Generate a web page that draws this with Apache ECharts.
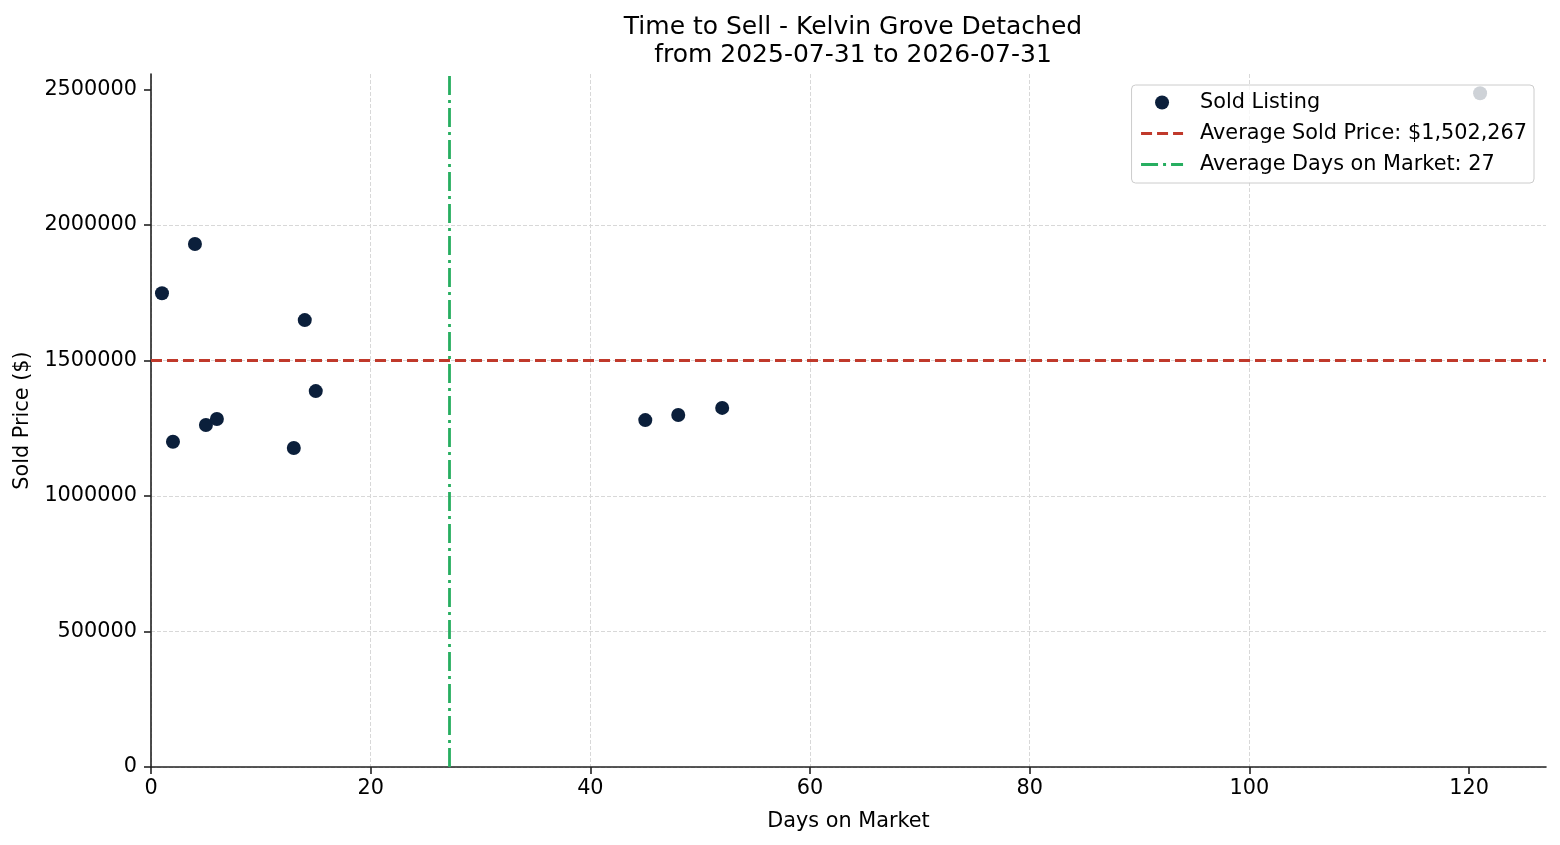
<!DOCTYPE html>
<html>
<head>
<meta charset="utf-8">
<title>Time to Sell - Kelvin Grove Detached</title>
<script src="https://cdn.jsdelivr.net/npm/echarts@6/dist/echarts.min.js"></script>
<style>
  html, body { margin: 0; padding: 0; background: #ffffff; }
  #chart { width: 1560px; height: 845px; }
</style>
</head>
<body>
<div id="chart"></div>
<script>
// sold listings: days on market and sold price
var daysOnMarket = [1, 2, 4, 5, 6, 13, 14, 15, 45, 48, 52, 121];
var soldPrices = [1748000, 1200000, 1930000, 1262000, 1284000, 1177000,
                  1649000, 1387000, 1280000, 1299000, 1325000, 2486200];

var xTicks = [0, 20, 40, 60, 80, 100, 120];
var yTicks = [0, 500000, 1000000, 1500000, 2000000, 2500000];

var sum = function (arr) { return arr.reduce(function (a, b) { return a + b; }, 0); };
var avgPrice = sum(soldPrices) / soldPrices.length;
var avgDays = sum(daysOnMarket) / daysOnMarket.length;

var points = daysOnMarket.map(function (d, i) { return [d, soldPrices[i]]; });

var font = 'DejaVu Sans';
var fs = 20.8;
var red = '#c0392b';
var green = '#27ae60';
var priceLabel = 'Average Sold Price: $' + Math.round(avgPrice).toLocaleString('en-US');
var daysLabel = 'Average Days on Market: ' + Math.round(avgDays);

var chart = echarts.init(document.getElementById('chart'));

var option = {
  backgroundColor: '#ffffff',
  animation: false,
  textStyle: { fontFamily: font },
  title: {
    text: 'Time to Sell - Kelvin Grove Detached\nfrom 2025-07-31 to 2026-07-31',
    left: 848,
    top: 8,
    textAlign: 'center',
    textStyle: { fontFamily: font, fontSize: 25, fontWeight: 'normal', color: '#000', lineHeight: 28.5 }
  },
  legend: {
    orient: 'vertical',
    right: 26,
    top: 85,
    padding: [7, 7, 8, 8],
    itemGap: 10,
    itemWidth: 42,
    itemHeight: 14,
    backgroundColor: 'rgba(255,255,255,0.8)',
    borderColor: '#cccccc',
    borderWidth: 1,
    borderRadius: 4,
    z: 10,
    textStyle: { fontFamily: font, fontSize: fs, color: '#000', padding: [0, 0, 0, 12] },
    data: [
      'Sold Listing',
      { name: priceLabel, lineStyle: { color: red, width: 3, type: [11, 5] } },
      { name: daysLabel, lineStyle: { color: green, width: 3, type: [17, 5, 3, 5] } }
    ]
  },
  grid: { left: 151, right: 14, top: 74, bottom: 78, containLabel: false, outerBoundsMode: 'none' },
  xAxis: {
    type: 'value',
    min: 0,
    max: 127,
    interval: 20,
    name: 'Days on Market',
    nameLocation: 'middle',
    nameGap: 44,
    nameTextStyle: { fontFamily: font, fontSize: fs, color: '#000' },
    axisLine: { show: true, onZero: false, lineStyle: { color: '#222', width: 1.6 } },
    axisTick: { show: true, length: 7, lineStyle: { color: '#222', width: 1.6 }, customValues: xTicks },
    axisLabel: { fontFamily: font, fontSize: fs, color: '#000', margin: 11, customValues: xTicks },
    splitLine: { show: true, showMaxLine: false, lineStyle: { color: '#d8d8d8', width: 1, type: [4, 2] } }
  },
  yAxis: {
    type: 'value',
    min: 0,
    max: 2557000,
    interval: 500000,
    name: 'Sold Price ($)',
    nameLocation: 'middle',
    nameGap: 103,
    nameTextStyle: { fontFamily: font, fontSize: fs, color: '#000' },
    axisLine: { show: true, onZero: false, lineStyle: { color: '#222', width: 1.6 } },
    axisTick: { show: true, length: 7, lineStyle: { color: '#222', width: 1.6 }, customValues: yTicks },
    axisLabel: {
      fontFamily: font, fontSize: fs, color: '#000', margin: 14, customValues: yTicks,
      formatter: function (v) { return String(v); }
    },
    splitLine: { show: true, showMaxLine: false, lineStyle: { color: '#d8d8d8', width: 1, type: [4, 2] } }
  },
  series: [
    {
      name: 'Sold Listing',
      type: 'scatter',
      symbol: 'circle',
      symbolSize: 14,
      z: 3,
      itemStyle: { color: '#0b1f3b', opacity: 1 },
      emphasis: { disabled: true },
      data: points
    },
    {
      name: priceLabel,
      type: 'line',
      data: [],
      symbol: 'none',
      color: red,
      itemStyle: { opacity: 0 },
      lineStyle: { color: red, width: 2.8, type: [11, 5] },
      markLine: {
        silent: true,
        symbol: 'none',
        label: { show: false },
        lineStyle: { color: red, width: 2.8, type: [11, 5] },
        data: [{ yAxis: avgPrice }]
      }
    },
    {
      name: daysLabel,
      type: 'line',
      data: [],
      symbol: 'none',
      color: green,
      itemStyle: { opacity: 0 },
      lineStyle: { color: green, width: 2.8, type: [19, 5, 3, 5] },
      markLine: {
        silent: true,
        symbol: 'none',
        label: { show: false },
        lineStyle: { color: green, width: 2.8, type: [19, 5, 3, 5] },
        data: [{ xAxis: avgDays }]
      }
    }
  ]
};

chart.setOption(option);
</script>
</body>
</html>
